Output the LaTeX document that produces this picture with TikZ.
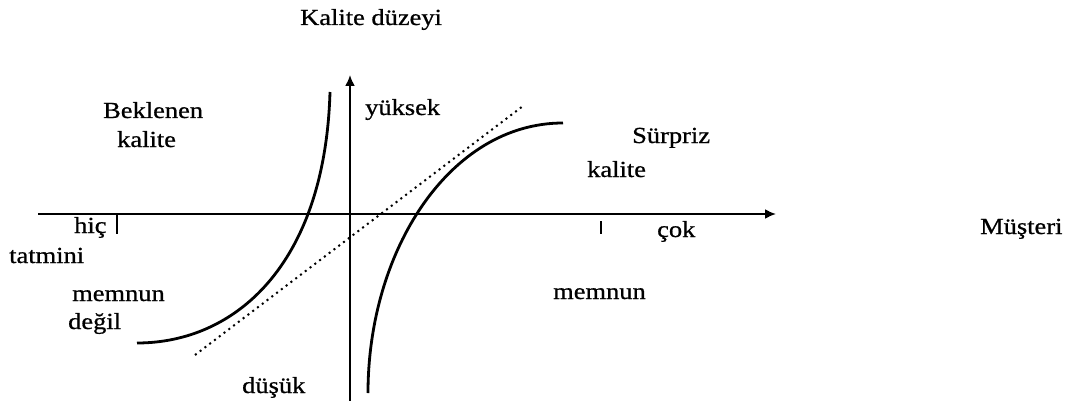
\documentclass[tikz,border=0pt]{standalone}
\usepackage{fontspec}
\setmainfont[FakeStretch=1.15,FakeBold=0.8]{Liberation Serif}
\usetikzlibrary{arrows.meta}
\begin{document}
\begin{tikzpicture}[x=1pt,y=-1pt,
  lbl/.style={anchor=base west,inner sep=0pt,font=\fontsize{23}{26}\selectfont},
  axis/.style={line width=2pt,-{Latex[length=11pt,width=10pt]}},
  tick/.style={line width=2pt},
  curve/.style={line width=2.8pt},
  dots/.style={line width=2pt,dash pattern=on 2pt off 4pt}]
\useasboundingbox (0,0) rectangle (1079,401);
% axes
\coordinate (xs) at (38,214);
\coordinate (xe) at (776,214);
\coordinate (ys) at (350,401);
\coordinate (ye) at (350,75);
\draw[axis] (xs) -- (xe);
\draw[axis] (ys) -- (ye);
% ticks
\coordinate (t1a) at (117,214);
\coordinate (t1b) at (117,234);
\coordinate (t2a) at (601,221);
\coordinate (t2b) at (601,234);
\draw[tick] (t1a) -- (t1b);
\draw[tick] (t2a) -- (t2b);
% curves
\coordinate (b0) at (137,343);
\coordinate (b1) at (330,92);
\draw[curve] (b0) .. controls (235,343) and (325,265) .. (b1);
\coordinate (s0) at (368,393);
\coordinate (s1) at (563,123);
\draw[curve] (s0) .. controls (368,250) and (450,123) .. (s1);
\coordinate (d0) at (195,355);
\coordinate (d1) at (523,106);
\draw[dots] (d0) -- (d1);
% labels
\node[lbl] (title) at (300,25) {Kalite düzeyi};
\node[lbl] (bek) at (103,118) {Beklenen};
\node[lbl] (bekk) at (117,147) {kalite};
\node[lbl] (yuk) at (365,115) {yüksek};
\node[lbl] (sur) at (632,143) {Sürpriz};
\node[lbl] (surk) at (587,177) {kalite};
\node[lbl] (hic) at (74,233) {hiç};
\node[lbl] (cok) at (657,237) {çok};
\node[lbl] (tat) at (9,263) {tatmini};
\node[lbl] (mem1) at (72,301) {memnun};
\node[lbl] (deg) at (68,329) {değil};
\node[lbl] (dus) at (242,393) {düşük};
\node[lbl] (mem2) at (553,299) {memnun};
\node[lbl] (mus) at (980,234) {Müşteri};
\end{tikzpicture}
\end{document}
